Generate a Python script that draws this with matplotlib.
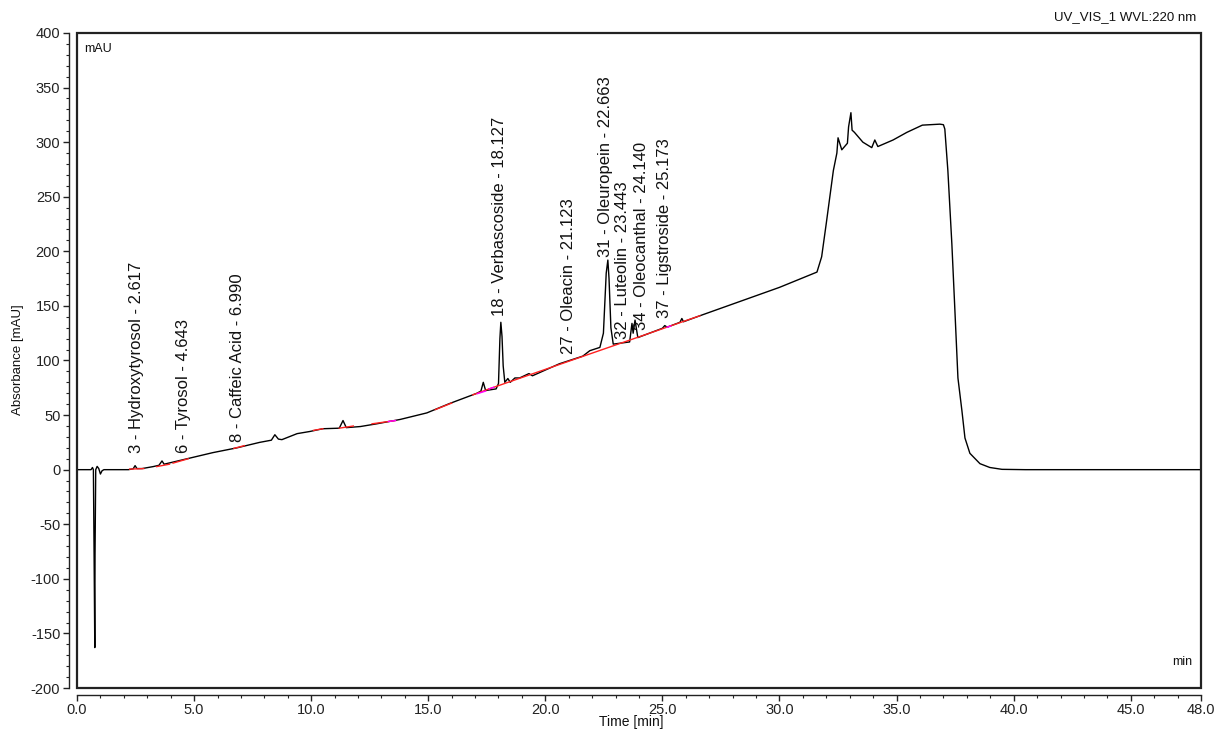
import matplotlib
matplotlib.use("Agg")
import matplotlib.pyplot as plt
from matplotlib.patches import Rectangle
from matplotlib.ticker import MultipleLocator, FixedLocator

plt.rcParams['font.family'] = ['Liberation Sans', 'DejaVu Sans']
plt.rcParams['axes.unicode_minus'] = False

# ---- data ----
trace_t = [0.0, 0.60, 0.66, 0.70, 0.73, 0.76, 0.77, 0.80, 0.86, 0.93, 1.00, 1.07, 1.15,
           2.20, 2.40, 2.48, 2.56, 2.78, 3.25, 3.50, 3.63, 3.72, 4.70, 5.80, 6.83, 7.80,
           8.30, 8.45, 8.60, 8.75, 9.40, 9.95, 10.50, 11.20, 11.36, 11.50, 12.10, 12.80,
           13.80, 14.94, 15.90, 17.08, 17.25, 17.35, 17.45, 17.90, 18.00, 18.06, 18.10,
           18.15, 18.20, 18.27, 18.40, 18.50, 18.70, 18.90, 19.30, 19.45, 20.60, 21.60,
           21.90, 22.33, 22.48, 22.60, 22.67, 22.72, 22.80, 22.90, 23.60, 23.70, 23.75,
           23.83, 23.95, 25.00, 25.10, 25.20, 25.75, 25.83, 25.90, 26.60, 30.00, 31.60,
           31.80, 32.00, 32.30, 32.45, 32.50, 32.66, 32.90, 32.95, 33.05, 33.10, 33.20,
           33.56, 33.94, 34.07, 34.20, 34.85, 35.44, 36.10, 36.85, 37.00, 37.06, 37.19,
           37.36, 37.49, 37.62, 37.79, 37.92, 38.13, 38.56, 38.98, 39.50, 40.50, 48.00]
trace_y = [0.0, 0.0, 2.0, 0.0, -78.0, -163.0, -78.0, 0.0, 3.0, 1.0, -4.0, -1.0, 0.0,
           0.0, 0.8, 3.7, 1.0, 1.0, 2.8, 4.0, 8.0, 5.0, 10.0, 15.6, 20.0, 25.0,
           27.0, 32.0, 28.0, 27.5, 33.0, 35.0, 37.5, 38.0, 45.0, 38.5, 39.5, 42.0,
           46.0, 52.0, 60.5, 70.0, 72.0, 80.0, 72.5, 74.0, 79.0, 120.0, 135.0,
           122.0, 95.0, 80.0, 83.5, 80.0, 84.0, 84.0, 88.0, 86.0, 97.0, 104.0,
           109.0, 112.0, 125.0, 180.0, 192.0, 175.0, 130.0, 115.0, 117.0, 134.0, 125.0,
           137.0, 121.0, 129.5, 132.0, 130.5, 135.0, 138.5, 135.5, 141.0, 167.0, 181.0,
           195.0, 226.0, 274.0, 290.0, 304.0, 293.0, 299.0, 314.0, 327.0, 311.0, 309.0,
           300.0, 295.0, 302.0, 296.0, 302.0, 309.0, 315.6, 316.5, 316.0, 312.0, 274.0,
           207.0, 146.0, 84.0, 54.0, 29.0, 15.0, 5.5, 2.0, 0.3, 0.0, 0.0]

# integration baselines (red) : start/end time and value
base_t0 = [2.25, 3.40, 4.10, 6.70, 10.10, 11.20, 12.60, 15.30, 16.90, 17.60]
base_y0 = [0.5, 2.8, 6.0, 19.5, 36.0, 38.0, 42.0, 55.0, 68.5, 74.0]
base_t1 = [2.85, 3.95, 4.75, 7.15, 10.50, 11.80, 13.60, 16.00, 17.60, 26.60]
base_y1 = [1.0, 5.0, 10.0, 22.0, 37.5, 40.0, 45.0, 61.0, 74.0, 141.0]

# short magenta baseline pieces
mag_t0 = [13.30, 17.10, 17.60, 25.20]
mag_y0 = [44.1, 69.6, 74.0, 130.5]
mag_t1 = [13.60, 17.45, 17.80, 25.35]
mag_y1 = [45.0, 72.0, 75.5, 131.6]

peak_labels = ["3 - Hydroxytyrosol - 2.617", "6 - Tyrosol - 4.643", "8 - Caffeic Acid - 6.990",
               "18 - Verbascoside - 18.127", "27 - Oleacin - 21.123", "31 - Oleuropein - 22.663",
               "32 - Luteolin - 23.443", "34 - Oleocanthal - 24.140", "37 - Ligstroside - 25.173"]
label_t = [2.56, 4.53, 6.87, 18.06, 20.97, 22.55, 23.30, 24.12, 25.10]
label_y = [15.6, 15.6, 25.0, 141.0, 106.0, 194.5, 120.0, 127.5, 139.0]

x_ticks = [0, 5, 10, 15, 20, 25, 30, 35, 40, 45, 48]
x_tick_labels = ["0.0", "5.0", "10.0", "15.0", "20.0", "25.0", "30.0", "35.0", "40.0", "45.0", "48.0"]
y_ticks = [-200, -150, -100, -50, 0, 50, 100, 150, 200, 250, 300, 350, 400]

# ---- figure ----
W, H = 1215, 733
fig = plt.figure(figsize=(W / 100, H / 100), dpi=100)
ax = fig.add_axes([77 / W, (H - 688) / H, (1201 - 77) / W, (688 - 33) / H])

ax.plot(trace_t, trace_y, color='black', lw=1.0, zorder=3)
for t0, y0, t1, y1 in zip(base_t0, base_y0, base_t1, base_y1):
    ax.plot([t0, t1], [y0, y1], color='#ff2020', lw=1.0, zorder=4)
for t0, y0, t1, y1 in zip(mag_t0, mag_y0, mag_t1, mag_y1):
    ax.plot([t0, t1], [y0, y1], color='#ff00ff', lw=1.0, zorder=5)

for lab, t, y in zip(peak_labels, label_t, label_y):
    ax.text(t, y, lab, rotation=90, ha='center', va='bottom', fontsize=12, color='#111111')

ax.set_xlim(0, 48)
ax.set_ylim(-200, 400)

ax.xaxis.set_major_locator(FixedLocator(x_ticks))
ax.set_xticklabels(x_tick_labels)
ax.xaxis.set_minor_locator(MultipleLocator(1))
ax.yaxis.set_major_locator(FixedLocator(y_ticks))
ax.yaxis.set_minor_locator(MultipleLocator(10))

ax.spines['left'].set_position(('outward', 6))
ax.spines['bottom'].set_position(('outward', 5))
for s in ['left', 'bottom']:
    ax.spines[s].set_linewidth(1.0)
    ax.spines[s].set_color('#222222')
ax.spines['top'].set_visible(False)
ax.spines['right'].set_visible(False)

ax.add_patch(Rectangle((0, 0), 1, 1, transform=ax.transAxes, fill=False,
                       lw=1.6, edgecolor='#222222', clip_on=False, zorder=6))

ax.tick_params(axis='both', which='major', direction='out', length=4, width=1.0,
               labelsize=10.5, colors='#222222', pad=2)
ax.tick_params(axis='both', which='minor', direction='out', length=2.5, width=0.8, colors='#222222')

ax.text(0.006, 0.985, "mAU", transform=ax.transAxes, ha='left', va='top', fontsize=9, color='#111111')
ax.text(0.992, 0.03, "min", transform=ax.transAxes, ha='right', va='bottom', fontsize=9, color='#111111')

fig.text(1196 / W, 1 - 17 / H, "UV_VIS_1 WVL:220 nm", ha='right', va='center', fontsize=9.5, color='#111111')
fig.text(631 / W, 1 - 722 / H, "Time [min]", ha='center', va='center', fontsize=10, color='#111111')
fig.text(18 / W, 1 - 360 / H, "Absorbance [mAU]", rotation=90, ha='center', va='center', fontsize=9.5, color='#111111')

fig.savefig("out.png", dpi=100)
